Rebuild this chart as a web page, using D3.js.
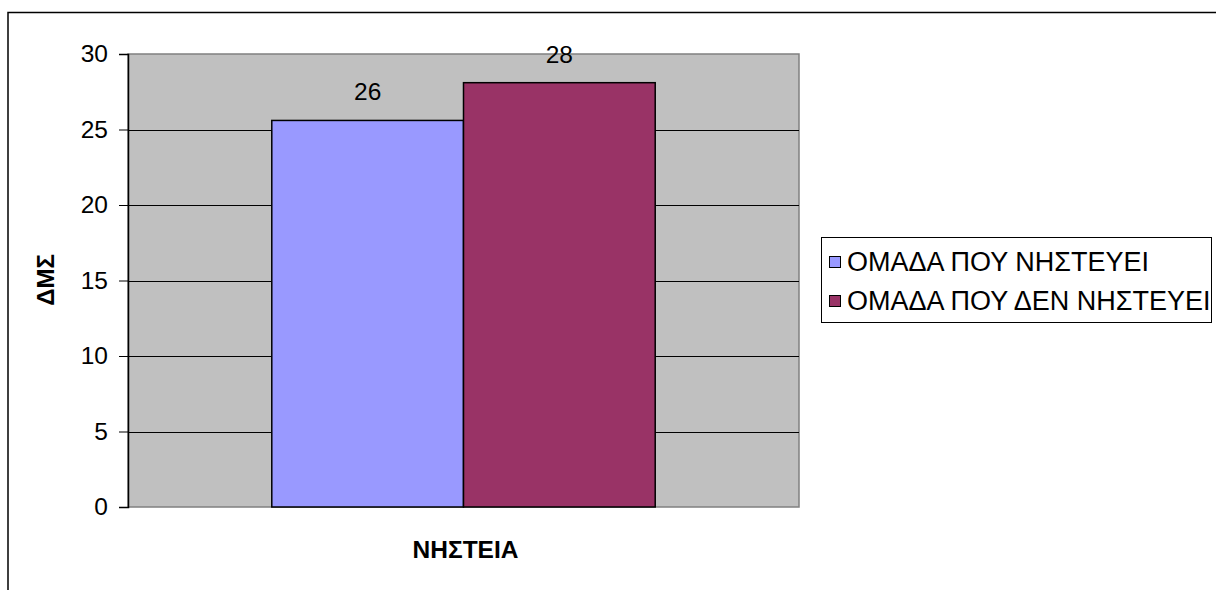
<!DOCTYPE html>
<html>
<head>
<meta charset="utf-8">
<script src="https://cdn.jsdelivr.net/npm/d3@7"></script>
<style>
  html, body { margin: 0; padding: 0; background: #fff; }
  svg { display: block; font-family: Arial, "Liberation Sans", sans-serif; }
</style>
</head>
<body>
<svg id="chart" width="1216" height="590"></svg>
<script>
// Mean BMI (ΔΜΣ) of fasting vs non-fasting group
const categories = ["ΝΗΣΤΕΙΑ"];
const seriesNames = ["ΟΜΑΔΑ ΠΟΥ ΝΗΣΤΕΥΕΙ", "ΟΜΑΔΑ ΠΟΥ ΔΕΝ ΝΗΣΤΕΥΕΙ"];
const seriesValues = [25.6, 28.1];
const seriesColors = ["#9999FF", "#993366"];
const yTicks = [0, 5, 10, 15, 20, 25, 30];
const yTitle = "ΔΜΣ";

const svg = d3.select("#chart");

// outer chart frame (runs past the right and bottom edges)
svg.append("rect")
  .attr("x", 8).attr("y", 12.5)
  .attr("width", 1240).attr("height", 620)
  .attr("fill", "none").attr("stroke", "#000").attr("stroke-width", 1.5);

const plot = { left: 128, right: 799, top: 54, bottom: 507 };

const x0 = d3.scaleBand().domain(categories)
  .range([plot.left, plot.right]).paddingInner(0).paddingOuter(0.375);
const x1 = d3.scaleBand().domain(seriesNames).range([0, x0.bandwidth()]);
const y = d3.scaleLinear().domain([0, 30]).range([plot.bottom, plot.top]);

// plot background
svg.append("rect")
  .attr("x", plot.left).attr("y", plot.top)
  .attr("width", plot.right - plot.left).attr("height", plot.bottom - plot.top)
  .attr("fill", "#C0C0C0").attr("stroke", "#808080").attr("stroke-width", 1.5);

// horizontal gridlines
svg.append("g").selectAll("line")
  .data(yTicks.filter(t => t > 0 && t < 30))
  .join("line")
  .attr("x1", plot.left).attr("x2", plot.right)
  .attr("y1", d => Math.round(y(d)) + 0.5).attr("y2", d => Math.round(y(d)) + 0.5)
  .attr("stroke", "#000").attr("stroke-width", 1);

// y axis
const yAxis = svg.append("g")
  .attr("transform", `translate(${plot.left},0)`)
  .call(d3.axisLeft(y).tickValues(yTicks).tickSize(9).tickPadding(11));
yAxis.select(".domain").attr("stroke", "#000").attr("stroke-width", 1.5);
yAxis.selectAll(".tick line").attr("stroke", "#000");
yAxis.selectAll(".tick text")
  .attr("font-family", "Arial, 'Liberation Sans', sans-serif")
  .attr("font-size", 24.5).attr("fill", "#000");

// bars
const groups = svg.append("g").selectAll("g")
  .data(categories).join("g")
  .attr("transform", d => `translate(${x0(d)},0)`);

groups.selectAll("rect")
  .data(() => seriesNames.map((s, i) => ({ s, v: seriesValues[i], c: seriesColors[i] })))
  .join("rect")
  .attr("x", d => x1(d.s)).attr("width", x1.bandwidth())
  .attr("y", d => y(d.v)).attr("height", d => y(0) - y(d.v))
  .attr("fill", d => d.c).attr("stroke", "#000").attr("stroke-width", 1.5);

// value labels
groups.selectAll("text.val")
  .data(() => seriesNames.map((s, i) => ({ s, v: seriesValues[i] })))
  .join("text").attr("class", "val")
  .attr("x", d => x1(d.s) + x1.bandwidth() / 2)
  .attr("y", d => y(d.v) - 20)
  .attr("text-anchor", "middle").attr("font-size", 24.5).attr("fill", "#000")
  .text(d => d3.format(".0f")(d.v));

// category axis label
svg.append("g").selectAll("text")
  .data(categories).join("text")
  .attr("x", d => x0(d) + x0.bandwidth() / 2 + 2)
  .attr("y", 558)
  .attr("text-anchor", "middle").attr("font-size", 24.5).attr("font-weight", "bold")
  .text(d => d);

// y axis title
svg.append("text")
  .attr("transform", "translate(54,280) rotate(-90)")
  .attr("text-anchor", "middle").attr("font-size", 24).attr("font-weight", "bold")
  .text(yTitle);

// legend
const legend = svg.append("g").attr("transform", "translate(821,237)");
legend.append("rect")
  .attr("x", 0.5).attr("y", 0.5).attr("width", 390).attr("height", 85)
  .attr("fill", "#fff").attr("stroke", "#000").attr("stroke-width", 1);
const items = legend.selectAll("g.item")
  .data(seriesNames.map((s, i) => ({ s, c: seriesColors[i] })))
  .join("g").attr("class", "item")
  .attr("transform", (d, i) => `translate(0,${25 + i * 39})`);
items.append("rect")
  .attr("x", 8.5).attr("y", -5.5).attr("width", 11).attr("height", 11)
  .attr("fill", d => d.c).attr("stroke", "#000").attr("stroke-width", 1);
items.append("text")
  .attr("x", 26).attr("y", 9)
  .attr("font-size", 27).attr("fill", "#000")
  .text(d => d.s);
</script>
</body>
</html>
